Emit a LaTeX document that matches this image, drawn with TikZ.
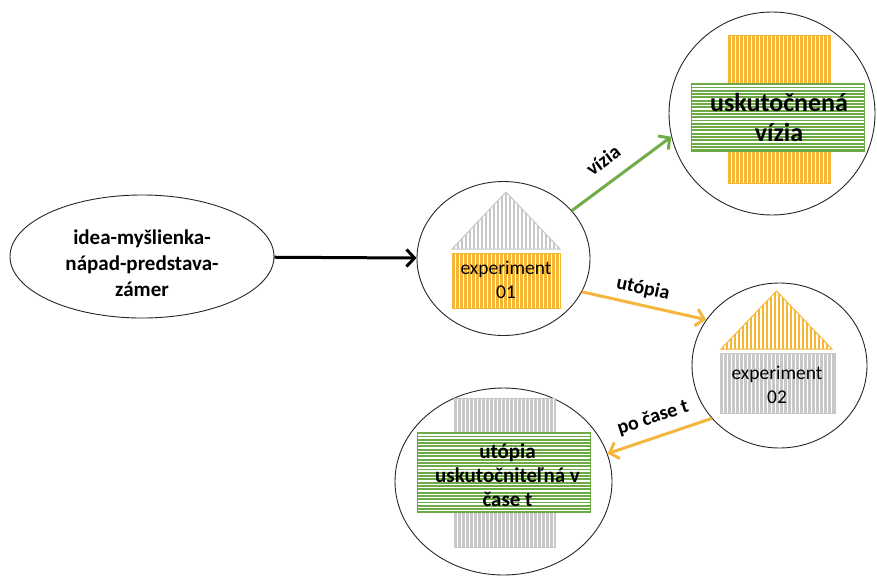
\documentclass[tikz,border=0pt]{standalone}
\usepackage{fontspec}
\setmainfont{Carlito}
\usetikzlibrary{arrows.meta,shapes.geometric}

\definecolor{stripeorange}{HTML}{F5B535}
\definecolor{stripegreen}{HTML}{6DAA45}
\definecolor{stripegrey}{HTML}{C8C8C8}
\definecolor{arrowgreen}{HTML}{70AD47}
\definecolor{arroworange}{HTML}{F4B63F}

% rectangle filled with vertical stripes: colour, x1, y1, x2, y2
\newcommand\vstriperect[5]{%
  \begin{scope}
    \fill[white] (#2,#3) rectangle (#4,#5);
    \clip (#2,#3) rectangle (#4,#5);
    \foreach \i in {0,...,40}{\draw[#1,line width=2.1pt] ({#2+1.5+4*\i},#3) -- ({#2+1.5+4*\i},#5);}
  \end{scope}
  \draw[#1,line width=1pt] (#2,#3) rectangle (#4,#5);
}
% rectangle filled with horizontal stripes: colour, x1, y1, x2, y2
\newcommand\hstriperect[5]{%
  \begin{scope}
    \fill[white] (#2,#3) rectangle (#4,#5);
    \clip (#2,#3) rectangle (#4,#5);
    \foreach \i in {0,...,30}{\draw[#1,line width=1.9pt] (#2,{#3+1.2+3.3*\i}) -- (#4,{#3+1.2+3.3*\i});}
  \end{scope}
  \draw[#1,line width=1pt] (#2,#3) rectangle (#4,#5);
}
% roof triangle with vertical stripes: colour, x-left, x-right, base y, apex y
\newcommand\vstripetri[5]{%
  \begin{scope}
    \clip (#2,#4) -- ({(#2+#3)/2},#5) -- (#3,#4) -- cycle;
    \foreach \i in {0,...,40}{\draw[#1,line width=2pt] ({#2+1.5+4*\i},#4) -- ({#2+1.5+4*\i},#5);}
  \end{scope}
  \draw[#1,line width=1pt] (#2,#4) -- ({(#2+#3)/2},#5) -- (#3,#4) -- cycle;
}

\tikzset{
  bubble/.style={ellipse,draw=black!85,line width=0.9pt,inner sep=0pt},
  bigtext/.style={font=\fontsize{21}{26}\selectfont\bfseries,align=center,inner sep=0pt},
  boxtext/.style={font=\fontsize{19.5}{24}\selectfont,align=center,inner sep=0pt},
  linktext/.style={font=\fontsize{20}{24}\selectfont\bfseries,inner sep=0pt},
  link/.style={line width=3pt,-{Straight Barb[length=8pt,width=17pt,line width=3pt]}},
}

\begin{document}
\begin{tikzpicture}[x=1pt,y=-1pt]
\useasboundingbox (0,0) rectangle (877,576);
\clip (0,0) rectangle (877,576);

% idea ellipse
\node[bubble,minimum width=264pt,minimum height=123pt] (idea) at (142,256.5) {};
\node[bigtext] (ideatext) at (142,263) {idea-myšlienka-\\nápad-predstava-\\zámer};

% experiment 01
\node[bubble,minimum width=173pt,minimum height=154pt] (c1) at (503.5,258.5) {};
\vstripetri{stripegrey}{452}{560}{249}{192}
\vstriperect{stripeorange}{452}{253}{560}{308}
\node[boxtext] (e1text) at (506,280) {experiment\\01};

% realised vision
\node[bubble,minimum width=206pt,minimum height=203pt] (cv) at (772,113.5) {};
\vstriperect{stripeorange}{728}{35}{830}{183}
\hstriperect{stripegreen}{691}{83}{864}{151}
\node[bigtext,font=\fontsize{26}{30}\selectfont\bfseries] (cvtext) at (779,117) {uskutočnená\\vízia};

% experiment 02
\node[bubble,minimum width=175pt,minimum height=165pt] (c2) at (779.5,365.5) {};
\vstripetri{stripeorange}{721}{832}{349}{291}
\vstriperect{stripegrey}{720}{353}{835}{413}
\node[boxtext] (e2text) at (777,385) {experiment\\02};

% utopia realisable in time t
\node[bubble,minimum width=217pt,minimum height=187pt] (c3) at (503.5,481.5) {};
\vstriperect{stripegrey}{454}{398}{555}{547}
\hstriperect{stripegreen}{417}{432}{590}{512}
\node[bigtext,font=\fontsize{21}{24}\selectfont\bfseries] (c3text) at (507.5,475) {utópia\\uskutočniteľná v\\čase t};

% connectors
\draw[link,black] (idea) -- (c1);
\draw[link,arrowgreen] (c1.35) -- (cv.193);
\draw[link,arroworange] (c1.-23) -- (c2.148);
\draw[link,arroworange] (c2.218) -- (c3.15);

% connector labels
\node[linktext,rotate=37] (lvizia) at (603,160) {vízia};
\node[linktext,rotate=-12] (lutopia) at (643,289) {utópia};
\node[linktext,rotate=18] (lcas) at (653,418) {po čase t};
\end{tikzpicture}
\end{document}
